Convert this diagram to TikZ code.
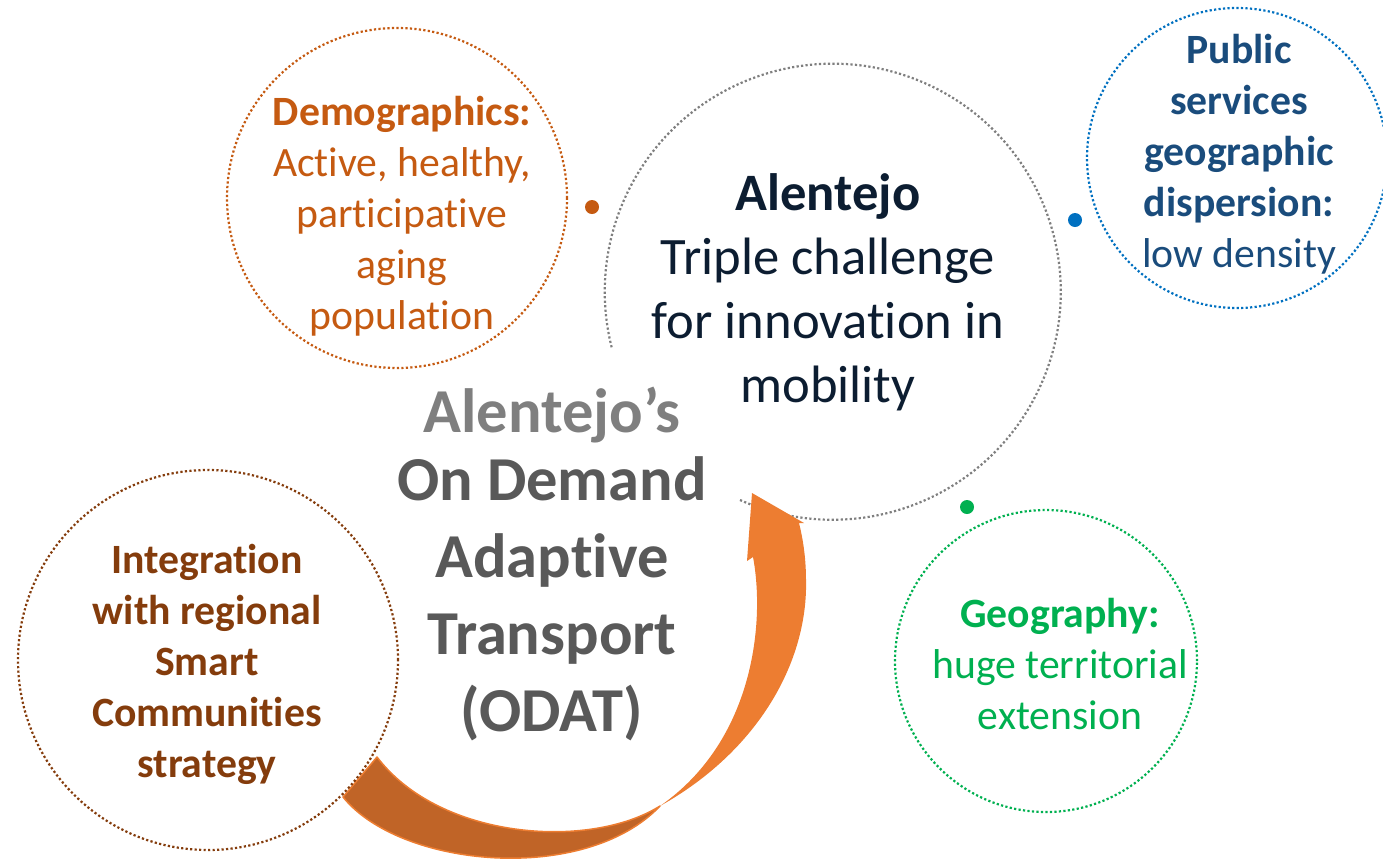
\documentclass[tikz,border=0pt]{standalone}
\usepackage{fontspec}
\setmainfont[Ligatures={NoCommon,NoContextual}]{Carlito}
\newcommand{\ctab}[1]{\begin{tabular}[t]{@{}c@{}}#1\end{tabular}}
\newcommand{\smallsz}{\fontsize{41.7}{51.2}\selectfont}
\definecolor{cOrange}{HTML}{C55A11}
\definecolor{cBlueT}{HTML}{1A4C7C}
\definecolor{cBlue}{HTML}{0070C0}
\definecolor{cGreen}{HTML}{00B050}
\definecolor{cBrown}{HTML}{843C0C}
\definecolor{cNavy}{HTML}{0C1D31}
\definecolor{cGrayL}{HTML}{7F7F7F}
\definecolor{cGrayD}{HTML}{595959}
\definecolor{cRing}{HTML}{7F7F7F}
\definecolor{arrOr}{HTML}{ED7D31}
\definecolor{arrDk}{HTML}{C06427}
\tikzset{
  dotline/.style={line width=2.2pt, dash pattern=on 2.2pt off 2.3pt},
  ring/.style={circle, draw=#1, dotline, inner sep=0pt, outer sep=0pt},
  bullet/.style={circle, fill=#1, inner sep=0pt, minimum size=14pt},
  txt/.style={anchor=base, inner sep=0pt},
}
\begin{document}
\begin{tikzpicture}[x=1pt,y=-1pt]
\useasboundingbox (0,0) rectangle (1383,863);
% main open ring
\coordinate (mc) at (832,295);
\coordinate (mstart) at (740,500);
\draw[cRing, dotline] (mstart) arc[start angle=114, end angle=-194.6, radius=228];
% curved arrow
\coordinate (pinch) at (660,806);
\coordinate (tip) at (752,493);
\fill[arrOr] (pinch) .. controls (760,750) and (808,660) .. (806,580)
  .. controls (806,555) and (802,535) .. (799,523) -- (804,523) -- (tip)
  -- (747,561) -- (753,557) .. controls (765,620) and (755,740) .. cycle;
\filldraw[fill=arrDk, draw=arrOr, line width=1.5pt, line join=round]
  (pinch) .. controls (590,850) and (440,840) .. (377,757) -- (343,797)
  .. controls (400,868) and (585,885) .. cycle;
% rings
\node[ring=cOrange, minimum size=340pt] (demo) at (397,198) {};
\node[ring=cBlue, minimum size=300pt] (pub) at (1237,158) {};
\node[ring=cGreen, minimum size=302pt] (geo) at (1046,661) {};
\node[ring=cBrown, minimum size=380pt] (integ) at (208,660) {};
% bullets
\node[bullet=cOrange] (b1) at (592,207) {};
\node[bullet=cBlue] (b2) at (1075,220) {};
\node[bullet=cGreen] (b3) at (967,507) {};
% texts
\node[txt, text=cNavy, font=\fontsize{52.6}{64}\selectfont] (tmain) at (828,210)
  {\ctab{\textbf{Alentejo}\\Triple challenge\\for innovation in\\mobility}};
\node[txt, font=\bfseries\fontsize{62.5}{77}\selectfont] (todat) at (552,432)
  {\ctab{\textcolor{cGrayL}{Alentejo’s}\\[-9pt]\textcolor{cGrayD}{On Demand}\\\textcolor{cGrayD}{Adaptive}\\\textcolor{cGrayD}{Transport}\\\textcolor{cGrayD}{(ODAT)}}};
\node[txt, font=\smallsz, text=cOrange] (tdemo) at (402,125)
  {\ctab{\textbf{Demographics:}\\Active, healthy,\\participative\\aging\\population}};
\node[txt, font=\smallsz, text=cBlueT] (tpub) at (1239,63)
  {\ctab{\textbf{Public}\\\textbf{services}\\\textbf{geographic}\\\textbf{dispersion:}\\low density}};
\node[txt, font=\smallsz, text=cGreen] (tgeo) at (1060,627)
  {\ctab{\textbf{Geography:}\\huge territorial\\extension}};
\node[txt, font=\bfseries\smallsz, text=cBrown] (tint) at (207,573)
  {\ctab{Integration\\with regional\\Smart\\Communities\\strategy}};
\end{tikzpicture}
\end{document}
